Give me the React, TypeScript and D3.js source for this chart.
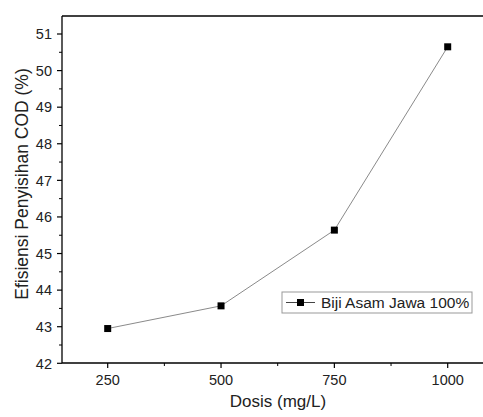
import React from "react";
import * as d3 from "d3";

const doses = [250, 500, 750, 1000];
const efficiency = [42.95, 43.57, 45.64, 50.65];
const xTicks = [250, 500, 750, 1000];
const xMinor = [375, 625, 875];
const yTicks = [42, 43, 44, 45, 46, 47, 48, 49, 50, 51];
const seriesName = "Biji Asam Jawa 100%";
const xLabel = "Dosis (mg/L)";
const yLabel = "Efisiensi Penyisihan COD (%)";

export default function App() {
  const W = 483, H = 417;
  const left = 62, top = 16, bottom = 363;
  const x = d3.scaleLinear().domain([250, 1000]).range([107.7, 447.7]);
  const y = d3.scaleLinear().domain([42, 51]).range([363.3, 34]);
  const yMinor = d3.range(42.5, 51.5, 1);
  const line = d3.line<number>().x((_, i) => x(doses[i])).y((d) => y(d));
  const font = "'Liberation Sans', Arial, sans-serif";
  const right = W + 5;
  return (
    <svg width={W} height={H} style={{ position: "absolute", left: 0, top: 0, background: "#fff" }}>
      <rect width={W} height={H} fill="#fff" />
      {/* axes */}
      <line x1={left} y1={top} x2={right} y2={top} stroke="#000" strokeWidth={1.3} />
      <line x1={left} y1={top} x2={left} y2={bottom} stroke="#000" strokeWidth={1.3} />
      <line x1={left} y1={bottom} x2={right} y2={bottom} stroke="#000" strokeWidth={1.3} />
      {yTicks.map((t) => (
        <g key={"y" + t}>
          <line x1={left - 5} x2={left} y1={y(t)} y2={y(t)} stroke="#000" strokeWidth={1.2} />
          <text x={left - 10} y={y(t)} dy="0.36em" textAnchor="end" fontSize={14.5} fontFamily={font} fill="#222">
            {t}
          </text>
        </g>
      ))}
      {yMinor.map((t) => (
        <line key={"ym" + t} x1={left - 3} x2={left} y1={y(t)} y2={y(t)} stroke="#000" strokeWidth={1} />
      ))}
      {xTicks.map((t) => (
        <g key={"x" + t}>
          <line x1={x(t)} x2={x(t)} y1={bottom} y2={bottom + 5} stroke="#000" strokeWidth={1.2} />
          <text x={x(t)} y={bottom + 22} textAnchor="middle" fontSize={14.5} fontFamily={font} fill="#222">
            {t}
          </text>
        </g>
      ))}
      {xMinor.map((t) => (
        <line key={"xm" + t} x1={x(t)} x2={x(t)} y1={bottom} y2={bottom + 3} stroke="#000" strokeWidth={1} />
      ))}
      <text x={278} y={407} textAnchor="middle" fontSize={17} fontFamily={font} fill="#222">
        {xLabel}
      </text>
      <text
        transform={`translate(28,184) rotate(-90)`}
        textAnchor="middle"
        fontSize={17.5}
        fontFamily={font}
        fill="#222"
      >
        {yLabel}
      </text>
      {/* series */}
      <path d={line(efficiency) || ""} fill="none" stroke="#8a8a8a" strokeWidth={1} />
      {efficiency.map((v, i) => (
        <rect key={i} x={x(doses[i]) - 3.5} y={y(v) - 3.5} width={7} height={7} fill="#000" />
      ))}
      {/* legend */}
      <rect x={282} y={292} width={190} height={21} fill="#fff" stroke="#999" strokeWidth={1} />
      <line x1={286} x2={315} y1={302.5} y2={302.5} stroke="#444" strokeWidth={1} />
      <rect x={297} y={299} width={7} height={7} fill="#000" />
      <text x={321} y={302.5} dy="0.36em" fontSize={15.5} fontFamily={font} fill="#222">
        {seriesName}
      </text>
    </svg>
  );
}
